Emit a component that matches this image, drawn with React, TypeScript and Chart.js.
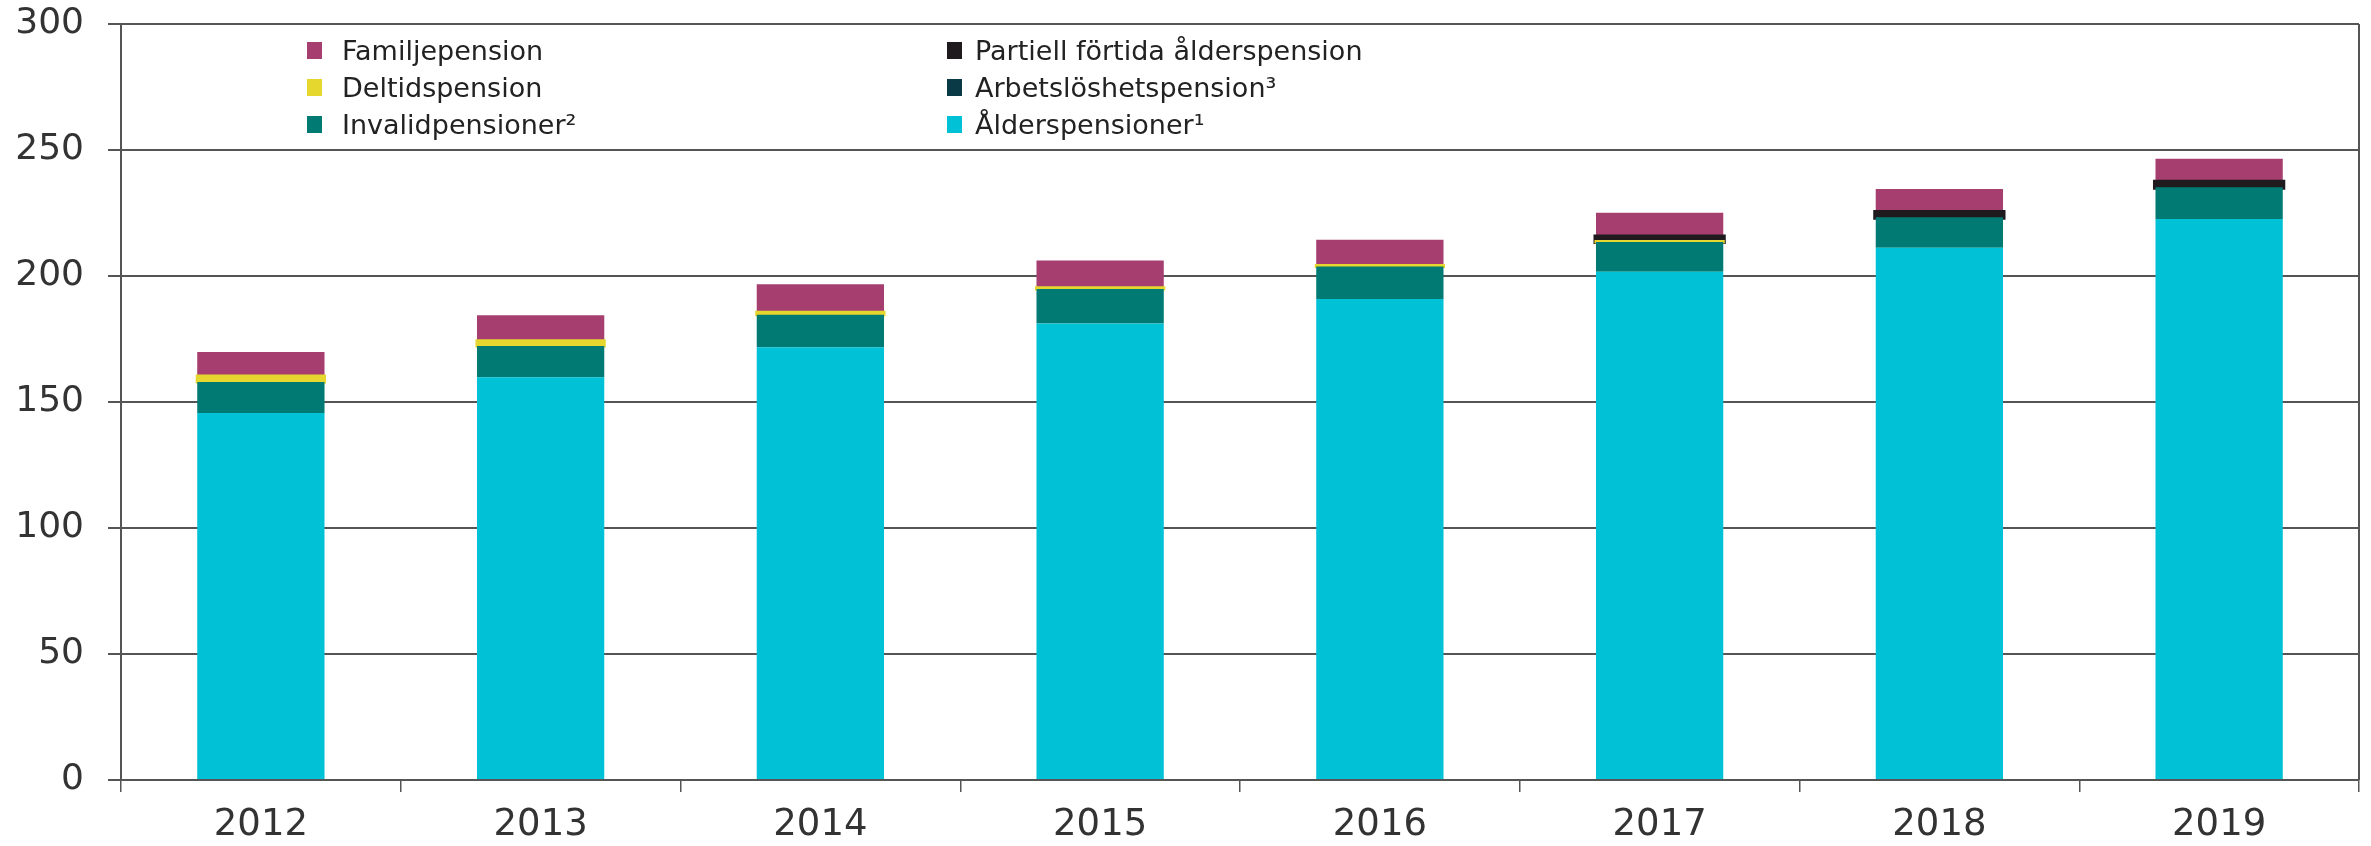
import React, { useEffect, useRef } from "react";
import { Chart, registerables } from "chart.js";

Chart.register(...registerables);

const years = ["2012", "2013", "2014", "2015", "2016", "2017", "2018", "2019"];
const alderspensioner = [145.6, 159.8, 171.7, 181.2, 190.9, 201.7, 211.2, 222.6];
const invalidpensioner = [12.3, 12.4, 12.9, 13.6, 12.9, 11.8, 12.1, 12.6];
const arbetsloshetspension = [null, null, null, null, null, null, null, null];
const deltidspension = [2.4, 2.1, 1.0, 0.5, 0.4, 0.2, null, null];
const partiellFortida = [null, null, null, null, null, 1.8, 1.9, 2.0];
const familjepension = [9.5, 10.1, 11.1, 10.9, 10.2, 9.6, 9.3, 9.3];
const yTicks = [0, 50, 100, 150, 200, 250, 300];

const COLORS = {
  alder: "#00C1D6",
  invalid: "#007A72",
  arbets: "#0B3A47",
  deltid: "#E6D72E",
  partiell: "#1E1A1E",
  familje: "#A63E70",
};

const legendItems = [
  { label: "Familjepension", color: COLORS.familje, col: 0, row: 0 },
  { label: "Deltidspension", color: COLORS.deltid, col: 0, row: 1 },
  { label: "Invalidpensioner²", color: COLORS.invalid, col: 0, row: 2 },
  { label: "Partiell förtida ålderspension", color: COLORS.partiell, col: 1, row: 0 },
  { label: "Arbetslöshetspension³", color: COLORS.arbets, col: 1, row: 1 },
  { label: "Ålderspensioner¹", color: COLORS.alder, col: 1, row: 2 },
];

const FONT = "'DejaVu Sans', Verdana, sans-serif";

export default function App() {
  const canvasRef = useRef<HTMLCanvasElement | null>(null);

  useEffect(() => {
    if (!canvasRef.current) return;
    const rightBorder = {
      id: "rightBorder",
      afterDraw(chart: any) {
        const { ctx, chartArea } = chart;
        ctx.save();
        ctx.strokeStyle = "#555";
        ctx.lineWidth = 2;
        ctx.beginPath();
        ctx.moveTo(chartArea.right, chartArea.top);
        ctx.lineTo(chartArea.right, chartArea.bottom);
        ctx.stroke();
        ctx.restore();
      },
    };
    const common = { barPercentage: 0.455, categoryPercentage: 1.0, borderWidth: 0 };
    const chart = new Chart(canvasRef.current, {
      type: "bar",
      data: {
        labels: years,
        datasets: [
          { label: "Ålderspensioner¹", data: alderspensioner, backgroundColor: COLORS.alder, ...common },
          { label: "Invalidpensioner²", data: invalidpensioner, backgroundColor: COLORS.invalid, ...common },
          { label: "Arbetslöshetspension³", data: arbetsloshetspension, backgroundColor: COLORS.arbets, ...common },
          { label: "Deltidspension", data: deltidspension, backgroundColor: COLORS.deltid, ...common, inflateAmount: 1.5 },
          { label: "Partiell förtida ålderspension", data: partiellFortida, backgroundColor: COLORS.partiell, ...common, inflateAmount: 2.5, borderRadius: 2 },
          { label: "Familjepension", data: familjepension, backgroundColor: COLORS.familje, ...common },
        ] as any,
      },
      options: {
        animation: false,
        responsive: false,
        maintainAspectRatio: false,
        layout: { padding: { top: 24, right: 12, left: 0, bottom: 0 } },
        plugins: { legend: { display: false }, tooltip: { enabled: false } },
        scales: {
          x: {
            stacked: true,
            offset: true,
            grid: {
              offset: true,
              drawOnChartArea: false,
              drawTicks: true,
              tickLength: 12,
              color: "#555",
              lineWidth: 1.5,
            },
            border: { display: true, color: "#555", width: 2 },
            ticks: {
              color: "#333",
              font: { family: FONT, size: 37 },
              padding: 11,
              maxRotation: 0,
            },
            afterFit: (scale: any) => {
              scale.height = 66;
              scale.paddingLeft = 0;
              scale.paddingRight = 0;
            },
          },
          y: {
            stacked: true,
            min: 0,
            max: 300,
            afterBuildTicks: (scale: any) => {
              scale.ticks = yTicks.map((v) => ({ value: v }));
            },
            grid: {
              color: "#555",
              lineWidth: 2,
              drawTicks: true,
              tickLength: 13,
            },
            border: { display: true, color: "#555", width: 2 },
            ticks: {
              color: "#333",
              font: { family: FONT, size: 36 },
              padding: 24,
            },
            afterFit: (scale: any) => {
              scale.width = 121;
              scale.paddingTop = 0;
              scale.paddingBottom = 0;
            },
          },
        },
      },
      plugins: [rightBorder],
    });
    return () => chart.destroy();
  }, []);

  return (
    <div style={{ position: "fixed", left: 0, top: 0, width: 2371, height: 846, background: "#fff" }}>
      <canvas ref={canvasRef} width={2371} height={846} style={{ display: "block" }} />
      {legendItems.map((it) => (
        <div
          key={it.label}
          style={{
            position: "absolute",
            left: it.col === 0 ? 307 : 947,
            top: 50 + it.row * 37 - 16,
            height: 32,
            display: "flex",
            alignItems: "center",
            fontFamily: FONT,
            fontSize: 27,
            color: "#222",
            whiteSpace: "nowrap",
          }}
        >
          <span
            style={{
              display: "inline-block",
              width: 15,
              height: 17,
              background: it.color,
              marginRight: it.col === 0 ? 20 : 13,
            }}
          />
          <span>{it.label}</span>
        </div>
      ))}
    </div>
  );
}
